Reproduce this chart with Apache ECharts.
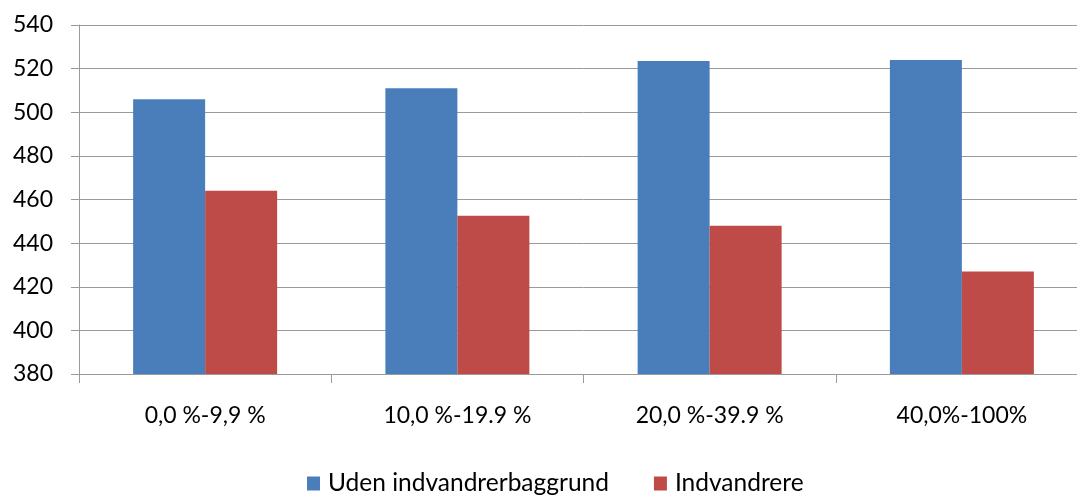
<!DOCTYPE html>
<html>
<head>
<meta charset="utf-8">
<script src="https://cdn.jsdelivr.net/npm/echarts@6/dist/echarts.min.js"></script>
<style>html,body{margin:0;padding:0;background:#fff;overflow:hidden}#c{width:1088px;height:497px}</style>
</head>
<body>
<div id="c"></div>
<script>
const categories = ['0,0 %-9,9 %', '10,0 %-19.9 %', '20,0 %-39.9 %', '40,0%-100%'];
const seriesNames = ['Uden indvandrerbaggrund', 'Indvandrere'];
const udenValues = [506, 511, 523.5, 524];
const indvandrereValues = [464, 452.5, 448, 427];
const yMin = 380, yMax = 540, yStep = 20;

const chart = echarts.init(document.getElementById('c'), null, {renderer: 'canvas'});
const font = 'Lato, "Open Sans", sans-serif';
chart.setOption({
  animation: false,
  color: ['#4A7EBB', '#BE4B48'],
  grid: {left: 79, top: 25, right: 0, height: 349, containLabel: false},
  legend: {
    data: seriesNames,
    top: 466,
    left: 302,
    itemWidth: 13, itemHeight: 14, itemGap: 45,
    icon: 'rect',
    textStyle: {fontFamily: font, fontSize: 24.5, color: '#000', padding: [0, 0, 0, 3]}
  },
  xAxis: {
    type: 'category',
    data: categories,
    axisLine: {lineStyle: {color: '#9a9a9a', width: 1}},
    axisTick: {show: true, length: 9, lineStyle: {color: '#9a9a9a'}},
    axisLabel: {fontFamily: font, fontSize: 23, color: '#000', margin: 30}
  },
  yAxis: {
    type: 'value',
    min: yMin, max: yMax, interval: yStep,
    axisLine: {show: true, lineStyle: {color: '#9a9a9a', width: 1}},
    axisTick: {show: true, length: 8, lineStyle: {color: '#9a9a9a'}},
    splitLine: {lineStyle: {color: '#9a9a9a', width: 1}},
    axisLabel: {fontFamily: font, fontSize: 23, color: '#000', margin: 26}
  },
  series: [
    {name: seriesNames[0], type: 'bar', data: udenValues, barWidth: 72, barGap: '0%'},
    {name: seriesNames[1], type: 'bar', data: indvandrereValues, barWidth: 72, barGap: '0%'}
  ]
});
</script>
</body>
</html>
